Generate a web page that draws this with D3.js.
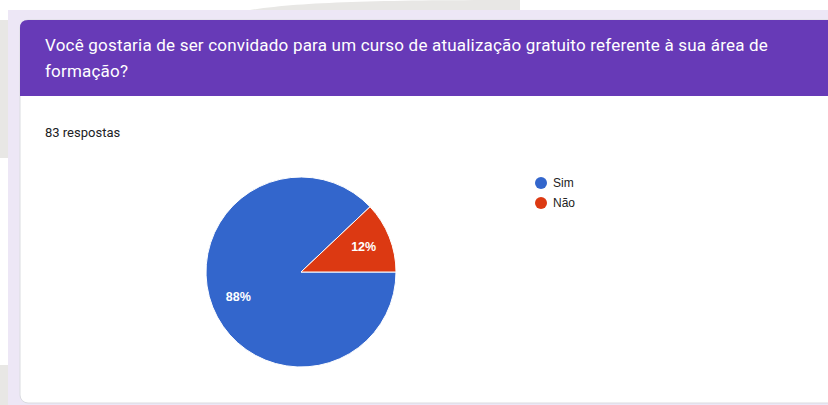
<!DOCTYPE html>
<meta charset="utf-8">

<!-- Load d3.js -->
<script src="https://d3js.org/d3.v7.min.js"></script>

<style>
  body { margin: 0; background: #ffffff; }
  text { font-family: Roboto, Arial, sans-serif; }
</style>

<!-- Create a div where the chart will take place -->
<div id="dataviz_pie"></div>

<script>

  var categories = ["Sim", "Não"];
  var counts = [73, 10];
  var colors = ["#3366cc", "#dc3912"];
  var titleLines = [
    "Você gostaria de ser convidado para um curso de atualização gratuito referente à sua área de",
    "formação?"
  ];
  var totalLabel = "83 respostas";

  var width = 828, height = 405;

  // append the svg object to the body of the page
  var svg = d3.select("#dataviz_pie")
    .append("svg")
    .attr("width", width)
    .attr("height", height);

  // page background pieces (screenshot surroundings)
  svg.append("rect").attr("x", 0).attr("y", 20).attr("width", 8).attr("height", 138).style("fill", "#e8e7e5");
  svg.append("rect").attr("x", 0).attr("y", 365).attr("width", 8).attr("height", 40).style("fill", "#e8e7e5");
  svg.append("path")
    .attr("d", "M250,10 C300,2 380,0 520,0 L520,10 Z")
    .style("fill", "#e8e7e5");
  svg.append("rect").attr("x", 8).attr("y", 10).attr("width", width - 8).attr("height", height - 10).style("fill", "#ede7f6");

  // card
  svg.append("rect")
    .attr("x", 20).attr("y", 20)
    .attr("width", 830).attr("height", 383)
    .attr("rx", 8)
    .style("fill", "#ffffff")
    .style("stroke", "#dadce0")
    .style("stroke-width", 1);

  // purple header with rounded top-left corner
  svg.append("path")
    .attr("d", "M20,96 L20,28 Q20,20 28,20 L850,20 L850,96 Z")
    .style("fill", "#673ab7");

  svg.append("text")
    .attr("x", 45)
    .attr("y", 51)
    .style("fill", "#ffffff")
    .style("font-size", "17px")
    .style("letter-spacing", "0.2px")
    .selectAll("tspan")
    .data(titleLines)
    .enter()
    .append("tspan")
    .attr("x", 45)
    .attr("dy", function (d, i) { return i === 0 ? 0 : 26; })
    .text(function (d) { return d; });

  svg.append("text")
    .attr("x", 45)
    .attr("y", 137)
    .style("fill", "#202124")
    .style("font-size", "13px")
    .text(totalLabel);

  // pie
  var radius = 95;
  var total = d3.sum(counts);
  var pieData = categories.map(function (c, i) { return { name: c, value: counts[i], color: colors[i] }; });

  var pie = d3.pie()
    .sort(null)
    .startAngle(Math.PI / 2)
    .endAngle(Math.PI / 2 + 2 * Math.PI)
    .value(function (d) { return d.value; });

  var arc = d3.arc().innerRadius(0).outerRadius(radius);
  var labelArc = d3.arc().innerRadius(radius * 0.71).outerRadius(radius * 0.71);

  var g = svg.append("g").attr("transform", "translate(301,272)");

  g.selectAll("path")
    .data(pie(pieData))
    .enter()
    .append("path")
    .attr("d", arc)
    .style("fill", function (d) { return d.data.color; })
    .style("stroke", "#ffffff")
    .style("stroke-width", 1);

  g.selectAll("text")
    .data(pie(pieData))
    .enter()
    .append("text")
    .attr("transform", function (d) { return "translate(" + labelArc.centroid(d) + ")"; })
    .attr("text-anchor", "middle")
    .attr("dy", "0.35em")
    .style("fill", "#ffffff")
    .style("font-family", "Arial, 'Liberation Sans', sans-serif")
    .style("font-size", "12.5px")
    .style("font-weight", "bold")
    .text(function (d) { return Math.round(d.data.value / total * 100) + "%"; });

  // legend
  var legend = svg.selectAll(".legend")
    .data(pieData)
    .enter()
    .append("g")
    .attr("class", "legend")
    .attr("transform", function (d, i) { return "translate(541," + (183 + i * 20) + ")"; });

  legend.append("circle")
    .attr("r", 6)
    .style("fill", function (d) { return d.color; });

  legend.append("text")
    .attr("x", 12)
    .attr("dy", "0.35em")
    .style("fill", "#222222")
    .style("font-family", "Arial, 'Liberation Sans', sans-serif")
    .style("font-size", "12px")
    .text(function (d) { return d.name; });

</script>
